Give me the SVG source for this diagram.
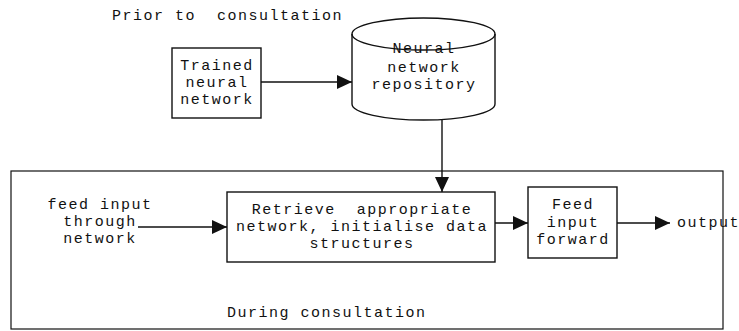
<svg xmlns="http://www.w3.org/2000/svg" width="739" height="331" viewBox="0 0 739 331">
<defs>
<style>
text{font-family:"Liberation Mono","Courier New",monospace;font-size:15px;letter-spacing:1.5px;fill:#111;white-space:pre}
.c{text-anchor:middle}
.box{fill:#fff;stroke:#111;stroke-width:1.4}
.ln{fill:none;stroke:#111;stroke-width:1.4}
</style>
<marker id="ah" markerUnits="userSpaceOnUse" markerWidth="16" markerHeight="14" refX="15" refY="7" orient="auto">
<path d="M0,0 L15,7 L0,14 Z" fill="#111"/>
</marker>
</defs>
<rect width="739" height="331" fill="#fff"/>
<g id="frame">
<rect x="11" y="171" width="712" height="158" fill="none" stroke="#111" stroke-width="1.2"/>
<text x="227" y="317">During consultation</text>
</g>
<text id="prior-label" x="112" y="20" xml:space="preserve">Prior to  consultation</text>
<g id="trained">
<rect class="box" x="172" y="48" width="89" height="70"/>
<text class="c" x="217" y="70">Trained</text>
<text class="c" x="217" y="87">neural</text>
<text class="c" x="217" y="104">network</text>
</g>
<g id="repository">
<path class="box" d="M352,34 L352,104 A71.5,16 0 0 0 495,104 L495,34 A71.5,16 0 0 0 352,34 Z"/>
<path class="ln" d="M352,34 A71.5,16 0 0 0 495,34"/>
<text class="c" x="424" y="53">Neural</text>
<text class="c" x="424" y="72">network</text>
<text class="c" x="424" y="89">repository</text>
</g>
<g id="input-label">
<text class="c" x="100" y="209">feed input</text>
<text class="c" x="100" y="226">through</text>
<text class="c" x="100" y="243">network</text>
</g>
<g id="retrieve">
<rect class="box" x="227" y="192" width="268" height="70"/>
<text class="c" x="362" y="214" xml:space="preserve">Retrieve  appropriate</text>
<text class="c" x="362" y="231">network, initialise data</text>
<text class="c" x="362" y="248">structures</text>
</g>
<g id="feed">
<rect class="box" x="528" y="187" width="89" height="71"/>
<text class="c" x="573" y="209">Feed</text>
<text class="c" x="573" y="227">input</text>
<text class="c" x="573" y="244">forward</text>
</g>
<text id="output-label" x="677" y="227">output</text>
<g id="connectors">
<line class="ln" x1="261" y1="82" x2="352" y2="82" marker-end="url(#ah)"/>
<line class="ln" x1="442" y1="120" x2="442" y2="192" marker-end="url(#ah)"/>
<line class="ln" x1="138" y1="227" x2="227" y2="227" marker-end="url(#ah)"/>
<line class="ln" x1="495" y1="223" x2="528" y2="223" marker-end="url(#ah)"/>
<line class="ln" x1="617" y1="223" x2="670" y2="223" marker-end="url(#ah)"/>
</g>
</svg>
